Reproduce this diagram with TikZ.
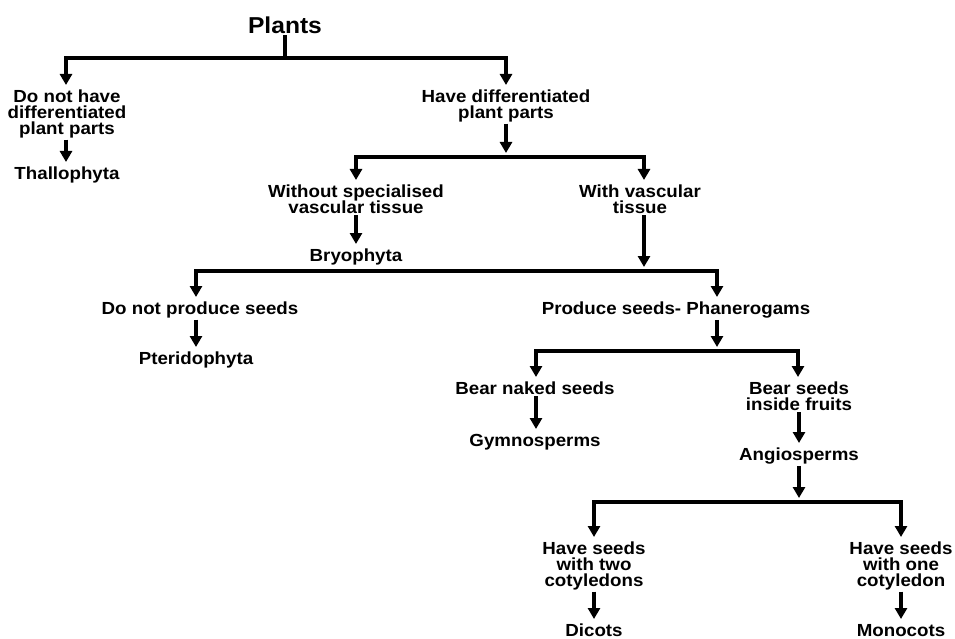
\documentclass[tikz,border=0pt]{standalone}
\usepackage{fontspec}
\setmainfont{Liberation Sans}[FakeStretch=1.07]
\usetikzlibrary{arrows.meta}
\newcommand\lblfont{\bfseries\fontsize{17.5}{16}\selectfont\lineskiplimit=-20pt\relax\lineskip=0pt\relax}
\begin{document}
\begin{tikzpicture}[x=1pt,y=-1pt,
  lbl/.style={font=\lblfont, align=center, inner sep=1pt, anchor=north},
  title/.style={font=\bfseries\fontsize{23}{26}\selectfont, inner sep=1pt, anchor=north},
  ln/.style={line width=3.3pt},
  arr/.style={line width=3.3pt, -{Triangle[width=12pt,length=11pt]}}]
\useasboundingbox[fill=white] (0,0) rectangle (955,639);

% nodes
\node[title] (plants) at (285,16) {Plants};
\node[lbl] (n1) at (67,89) {Do not have\\differentiated\\plant parts};
\node[lbl] (thal) at (67,166) {Thallophyta};
\node[lbl] (n2) at (506,89) {Have differentiated\\plant parts};
\node[lbl] (n3) at (356,184) {Without specialised\\vascular tissue};
\node[lbl] (bryo) at (356,248) {Bryophyta};
\node[lbl] (n4) at (640,184) {With vascular\\tissue};
\node[lbl] (n5) at (200,301) {Do not produce seeds};
\node[lbl] (pter) at (196,351) {Pteridophyta};
\node[lbl] (n6) at (676,301) {Produce seeds- Phanerogams};
\node[lbl] (n7) at (535,381) {Bear naked seeds};
\node[lbl] (gym) at (535,433) {Gymnosperms};
\node[lbl] (n8) at (799,381) {Bear seeds\\inside fruits};
\node[lbl] (angio) at (799,447) {Angiosperms};
\node[lbl] (n9) at (594,541) {Have seeds\\with two\\cotyledons};
\node[lbl] (dicots) at (594,623) {Dicots};
\node[lbl] (n10) at (901,541) {Have seeds\\with one\\cotyledon};
\node[lbl] (mono) at (901,623) {Monocots};

% junctions
\coordinate (j1) at (285,58);
\coordinate (j2) at (506,157);
\coordinate (j3) at (644,271);
\coordinate (j4) at (717,351);
\coordinate (j5) at (799,502);

% connectors
\draw[ln] (plants.south) -- (j1);
\draw[arr] (j1) -| ([yshift=4pt,xshift=-1pt]n1.north);
\draw[arr] (j1) -| ([yshift=4pt]n2.north);
\draw[arr] ([xshift=-1pt]n1.south) -- ([yshift=4pt,xshift=-1pt]thal.north);

\draw[arr] (n2.south) -- ([yshift=4pt]j2);
\draw[arr] (j2) -| ([yshift=4pt]n3.north);
\draw[arr] (j2) -| ([yshift=4pt,xshift=4pt]n4.north);
\draw[arr] (n3.south) -- ([yshift=4pt]bryo.north);

\draw[arr] ([xshift=4pt]n4.south) -- ([yshift=4pt]j3);
\draw[arr] (j3) -| ([yshift=4pt,xshift=-4pt]n5.north);
\draw[arr] (j3) -| ([yshift=4pt,xshift=41pt]n6.north);
\draw[arr] ([xshift=-4pt]n5.south) -- ([yshift=4pt]pter.north);

\draw[arr] ([xshift=41pt]n6.south) -- ([yshift=4pt]j4);
\draw[arr] (j4) -| ([yshift=4pt,xshift=1pt]n7.north);
\draw[arr] (j4) -| ([yshift=4pt,xshift=-1pt]n8.north);
\draw[arr] ([xshift=1pt]n7.south) -- ([yshift=4pt,xshift=1pt]gym.north);
\draw[arr] (n8.south) -- ([yshift=4pt]angio.north);

\draw[arr] (angio.south) -- ([yshift=4pt]j5);
\draw[arr] (j5) -| ([yshift=4pt]n9.north);
\draw[arr] (j5) -| ([yshift=4pt]n10.north);
\draw[arr] (n9.south) -- ([yshift=4pt]dicots.north);
\draw[arr] (n10.south) -- ([yshift=4pt]mono.north);
\end{tikzpicture}
\end{document}
